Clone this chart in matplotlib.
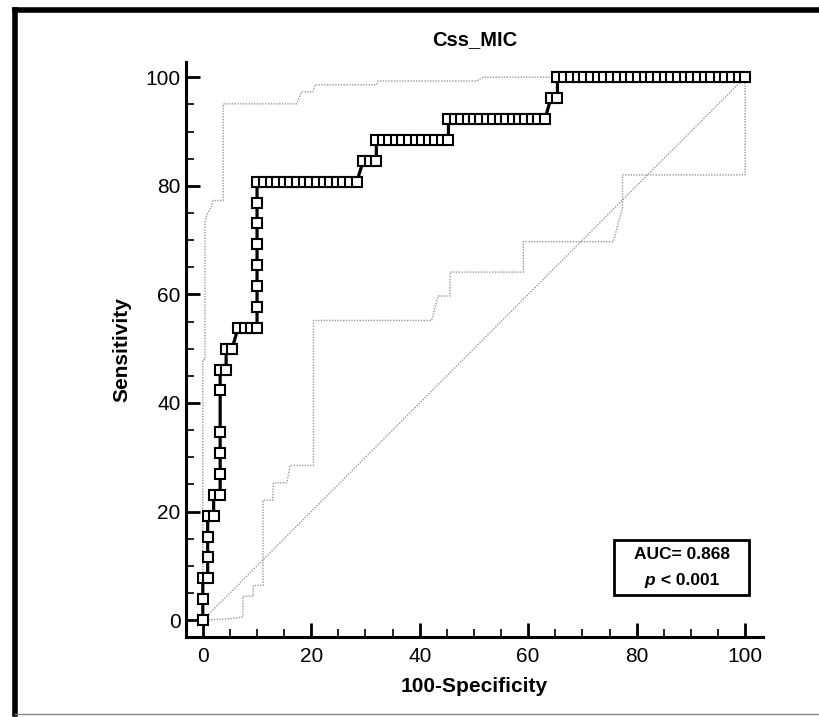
import matplotlib.pyplot as plt
from matplotlib.lines import Line2D
from matplotlib.patches import Rectangle

plt.rcParams['font.family'] = ['Liberation Sans', 'DejaVu Sans']

# ROC-Kurve: Punkte (100-Spezifitaet, Sensitivitaet)
roc_x = [0, 0, 0, 0.9, 0.9, 0.9, 0.9, 2.0, 2.0, 3.2, 3.2, 3.2, 3.2, 3.2, 3.2, 4.3, 4.3, 5.4,
         6.5, 7.7, 8.9, 10.0,
         10.0, 10.0, 10.0, 10.0, 10.0, 10.0, 10.0,
         11.2, 12.5, 13.7, 14.9, 16.1, 17.4, 18.6, 19.8, 21.0, 22.3, 23.5, 24.7, 25.9, 27.2, 28.4,
         29.6, 30.8, 32.0,
         32.0, 33.2, 34.4, 35.6, 36.8, 38.0, 39.3, 40.5, 41.7, 42.9, 44.1, 45.3,
         45.3, 46.5, 47.7, 48.9, 50.1, 51.2, 52.4, 53.6, 54.8, 56.0, 57.2, 58.4, 59.5, 60.7, 61.9, 63.1,
         64.2, 65.4,
         65.4, 66.6, 67.9, 69.1, 70.3, 71.6, 72.8, 74.0, 75.3, 76.5, 77.8, 79.0, 80.2, 81.5, 82.7,
         83.9, 85.2, 86.4, 87.6, 88.9, 90.1, 91.4, 92.6, 93.8, 95.1, 96.3, 97.5, 98.8, 100.0]
roc_y = [0, 3.85, 7.69, 7.69, 11.54, 15.38, 19.23, 19.23, 23.08, 23.08, 26.92, 30.77, 34.62, 42.31, 46.15, 46.15, 50.0, 50.0,
         53.85, 53.85, 53.85, 53.85,
         57.69, 61.54, 65.38, 69.23, 73.08, 76.92, 80.77,
         80.77, 80.77, 80.77, 80.77, 80.77, 80.77, 80.77, 80.77, 80.77, 80.77, 80.77, 80.77, 80.77, 80.77, 80.77,
         84.62, 84.62, 84.62,
         88.46, 88.46, 88.46, 88.46, 88.46, 88.46, 88.46, 88.46, 88.46, 88.46, 88.46, 88.46,
         92.31, 92.31, 92.31, 92.31, 92.31, 92.31, 92.31, 92.31, 92.31, 92.31, 92.31, 92.31, 92.31, 92.31, 92.31, 92.31,
         96.15, 96.15,
         100, 100, 100, 100, 100, 100, 100, 100, 100, 100, 100, 100, 100, 100, 100,
         100, 100, 100, 100, 100, 100, 100, 100, 100, 100, 100, 100, 100, 100]

# 95% Konfidenzband
upper_x = [0, 0, 0.4, 0.4, 0.7, 1.6, 1.9, 3.75, 3.75, 17.3, 18.2, 20.3, 20.7, 32.0, 32.3, 50.5, 51.7, 100]
upper_y = [0, 48, 48, 73, 74.6, 76.1, 77.3, 77.3, 95.1, 95.1, 97.3, 97.3, 98.6, 98.6, 99.3, 99.3, 100, 100]
lower_x = [0, 5.5, 7.4, 7.4, 9.3, 9.3, 11.1, 11.1, 12.9, 13.0, 15.5, 16.1, 20.4, 20.4, 42.2, 43.4, 45.6,
           45.6, 59.1, 59.1, 75.7, 77.4, 77.4, 100, 100]
lower_y = [0, 0.3, 0.6, 4.4, 4.4, 6.4, 6.4, 22.1, 22.1, 25.3, 25.3, 28.5, 28.5, 55.2, 55.2, 59.7, 59.7,
           64.1, 64.1, 69.7, 69.7, 76.0, 82.0, 82.0, 100]

diag = [0, 100]

fig = plt.figure(figsize=(8.19, 7.17), dpi=100)
ax = fig.add_axes([0.2271, 0.1116, 0.7045, 0.8019])

ax.plot(diag, diag, color='#999999', lw=1, linestyle=(0, (1, 1)))
ax.plot(upper_x, upper_y, color='#999999', lw=1, linestyle=(0, (1, 1)))
ax.plot(lower_x, lower_y, color='#999999', lw=1, linestyle=(0, (1, 1)))
ax.plot(roc_x, roc_y, color='black', lw=2.3, marker='s', markersize=7,
        markerfacecolor='white', markeredgecolor='black', markeredgewidth=1.5, zorder=5)

ax.set_xlim(-3.1, 103.3)
ax.set_ylim(-3.1, 102.8)
ax.set_xticks(range(0, 101, 20))
ax.set_yticks(range(0, 101, 20))
ax.set_xticks(range(0, 101, 5), minor=True)
ax.set_yticks(range(0, 101, 5), minor=True)
ax.tick_params(which='major', direction='in', length=10, width=2, labelsize=15)
ax.tick_params(which='minor', direction='in', length=5.5, width=1.2)
ax.tick_params(axis='x', pad=7)
ax.tick_params(axis='y', pad=4)

for s in ['top', 'right']:
    ax.spines[s].set_visible(False)
for s in ['left', 'bottom']:
    ax.spines[s].set_linewidth(2.2)

ax.set_title('Css_MIC', fontsize=14.5, fontweight='bold', pad=12)
ax.set_xlabel('100-Specificity', fontsize=15, fontweight='bold', labelpad=8)
ax.set_ylabel('Sensitivity', fontsize=15, fontweight='bold', labelpad=10)

# AUC-Box
ax.add_patch(Rectangle((0.742, 0.073), 0.234, 0.096, transform=ax.transAxes,
                       fill=False, edgecolor='black', lw=2, clip_on=False))
ax.text(0.859, 0.143, 'AUC= 0.868', transform=ax.transAxes, ha='center', va='center',
        fontsize=12.5, fontweight='bold')
ax.text(0.812, 0.099, 'p', transform=ax.transAxes, ha='right', va='center',
        fontsize=12.5, fontweight='bold', style='italic')
ax.text(0.815, 0.099, ' < 0.001', transform=ax.transAxes, ha='left', va='center',
        fontsize=12.5, fontweight='bold')

# Rahmen um die Abbildung
fig.add_artist(Line2D([0.0183, 0.0183], [0.004, 0.9855], transform=fig.transFigure,
                      color='black', lw=4, solid_capstyle='projecting'))
fig.add_artist(Line2D([0.0183, 1.0], [0.9855, 0.9855], transform=fig.transFigure,
                      color='black', lw=4, solid_capstyle='projecting'))
fig.add_artist(Line2D([0.0183, 1.0], [0.004, 0.004], transform=fig.transFigure,
                      color='#888888', lw=1))

fig.savefig('out.png', dpi=100)
